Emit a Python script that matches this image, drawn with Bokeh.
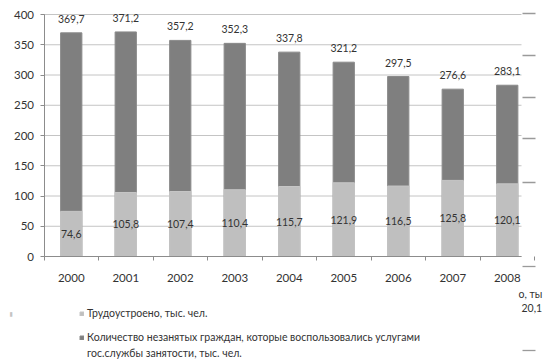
from bokeh.plotting import figure
from bokeh.models import (ColumnDataSource, Range1d, FixedTicker, Legend, LegendItem,
                          Label, LinearAxis)
from bokeh.core.properties import value
from bokeh.embed import file_html
from bokeh.resources import INLINE

years = ["2000", "2001", "2002", "2003", "2004", "2005", "2006", "2007", "2008"]
employed = [74.6, 105.8, 107.4, 110.4, 115.7, 121.9, 116.5, 125.8, 120.1]
total = [369.7, 371.2, 357.2, 352.3, 337.8, 321.2, 297.5, 276.6, 283.1]
y_ticks = [0, 50, 100, 150, 200, 250, 300, 350, 400]

label_employed = "Трудоустроено, тыс. чел."
label_total_1 = "Количество незанятых граждан, которые воспользовались услугами"
label_total_2 = "гос.службы занятости, тыс. чел."

FONT = "Lato"
DARK = "#7f7f7f"
LIGHT = "#bfbfbf"
TXT = "#333333"
AXC = "#8c8c8c"

W, H = 548, 364
# plot area geometry (pixels) used to set the ranges
X0_PX, X1_PX, BAND = 43.5, 521.0, 54.5
Y0_PX, Y400_PX = 256.0, 14.0
ppu = (Y0_PX - Y400_PX) / 400.0

x_start = -0.5 - X0_PX / BAND
x_end = -0.5 + (W - X0_PX) / BAND
x_clip = -0.5 + (X1_PX - X0_PX) / BAND
y_end = 400 + Y400_PX / ppu
y_start = -(H - Y0_PX) / ppu


def px_to_x(px):
    return -0.5 + (px - X0_PX) / BAND


def py_to_y(py):
    return (Y0_PX - py) / ppu


xs = list(range(len(years)))
src = ColumnDataSource(dict(
    x=xs,
    employed=employed,
    total=total,
    emp_mid=[v / 2 for v in employed],
    emp_txt=[f"{v:.1f}".replace(".", ",") for v in employed],
    tot_txt=[f"{v:.1f}".replace(".", ",") for v in total],
))

p = figure(width=W, height=H, output_backend="svg", toolbar_location=None,
           x_range=Range1d(x_start, x_end), y_range=Range1d(y_start, y_end),
           x_axis_location=None, y_axis_location=None,
           min_border_left=0, min_border_right=0, min_border_top=0,
           min_border_bottom=0)
p.outline_line_color = None
p.background_fill_color = "white"
p.xgrid.visible = False
p.ygrid.visible = False

# horizontal grid lines
p.segment(x0=[-0.5] * len(y_ticks), x1=[x_clip] * len(y_ticks), y0=y_ticks, y1=y_ticks,
          line_color="#c4c4c4", line_width=1)

r_tot = p.vbar(x="x", top="total", width=0.39, source=src, fill_color=DARK,
               line_color="#8a8a8a", line_width=1)
r_emp = p.vbar(x="x", top="employed", width=0.39, source=src, fill_color=LIGHT,
               line_color="#c6c6c6", line_width=1)

p.text(x="x", y="total", text="tot_txt", source=src, text_align="center",
       text_baseline="middle", y_offset=-14, text_font=value(FONT),
       text_font_size="10.5px", text_color=TXT)
p.text(x="x", y="emp_mid", text="emp_txt", source=src, text_align="center",
       text_baseline="middle", text_font=value(FONT),
       text_font_size="10.5px", text_color=TXT)

# axes drawn at fixed data positions
xaxis = LinearAxis(fixed_location=0, bounds=(-0.5, x_clip))
xaxis.ticker = FixedTicker(ticks=xs, minor_ticks=[i - 0.5 for i in range(len(years) + 1)])
xaxis.major_label_overrides = {i: y for i, y in enumerate(years)}
xaxis.major_tick_line_color = None
xaxis.major_tick_out = 0
xaxis.major_tick_in = 0
xaxis.minor_tick_out = 4
xaxis.minor_tick_in = 0
xaxis.minor_tick_line_color = AXC
xaxis.major_label_standoff = 13

yaxis = LinearAxis(fixed_location=-0.5, bounds=(0, 400))
yaxis.ticker = FixedTicker(ticks=y_ticks)
yaxis.major_tick_out = 4
yaxis.major_tick_in = 0
yaxis.minor_tick_line_color = None
yaxis.major_label_standoff = 6
yaxis.major_tick_line_color = AXC

for ax in (xaxis, yaxis):
    ax.axis_line_color = AXC
    ax.major_label_text_font = FONT
    ax.major_label_text_font_size = "11.5px"
    ax.major_label_text_color = TXT
p.add_layout(xaxis, "below")
p.add_layout(yaxis, "left")


def style_legend(lg):
    lg.glyph_width = 5
    lg.glyph_height = 5
    lg.label_standoff = 3
    lg.label_height = 16
    lg.spacing = 0
    lg.padding = 0
    lg.margin = 0
    lg.border_line_color = None
    lg.background_fill_alpha = 0
    lg.label_text_font = FONT
    lg.label_text_font_size = "10.5px"
    lg.label_text_color = TXT


legend1 = Legend(items=[LegendItem(label=label_employed, renderers=[r_emp])],
                 location=(79, 43), orientation="vertical")
legend2 = Legend(items=[LegendItem(label=label_total_1, renderers=[r_tot]),
                        LegendItem(label=label_total_2, renderers=[])],
                 location=(79, 3), orientation="vertical")
style_legend(legend1)
style_legend(legend2)
p.add_layout(legend1)
p.add_layout(legend2)

# fragments of a neighbouring picture at the edges
for txt, xx, yy in (("о, ты", 518, 71), ("20,1", 521, 57)):
    p.add_layout(Label(x=xx, y=yy, x_units="screen", y_units="screen", text=txt,
                       text_font=FONT, text_font_size="10.5px", text_color=TXT,
                       text_baseline="middle"))
frag_py = [13, 55, 97, 138, 182, 266, 350]
p.segment(x0=[px_to_x(522)] * len(frag_py), x1=[px_to_x(535)] * len(frag_py),
          y0=[py_to_y(v) for v in frag_py], y1=[py_to_y(v) for v in frag_py],
          line_color="#9a9a9a", line_width=1.3)
p.add_layout(Label(x=9, y=51, x_units="screen", y_units="screen", text="▮",
                   text_font="DejaVu Sans", text_font_size="6px",
                   text_color="#c4c4c4", text_baseline="middle"))

open("out.html", "w").write(file_html(p, INLINE))
